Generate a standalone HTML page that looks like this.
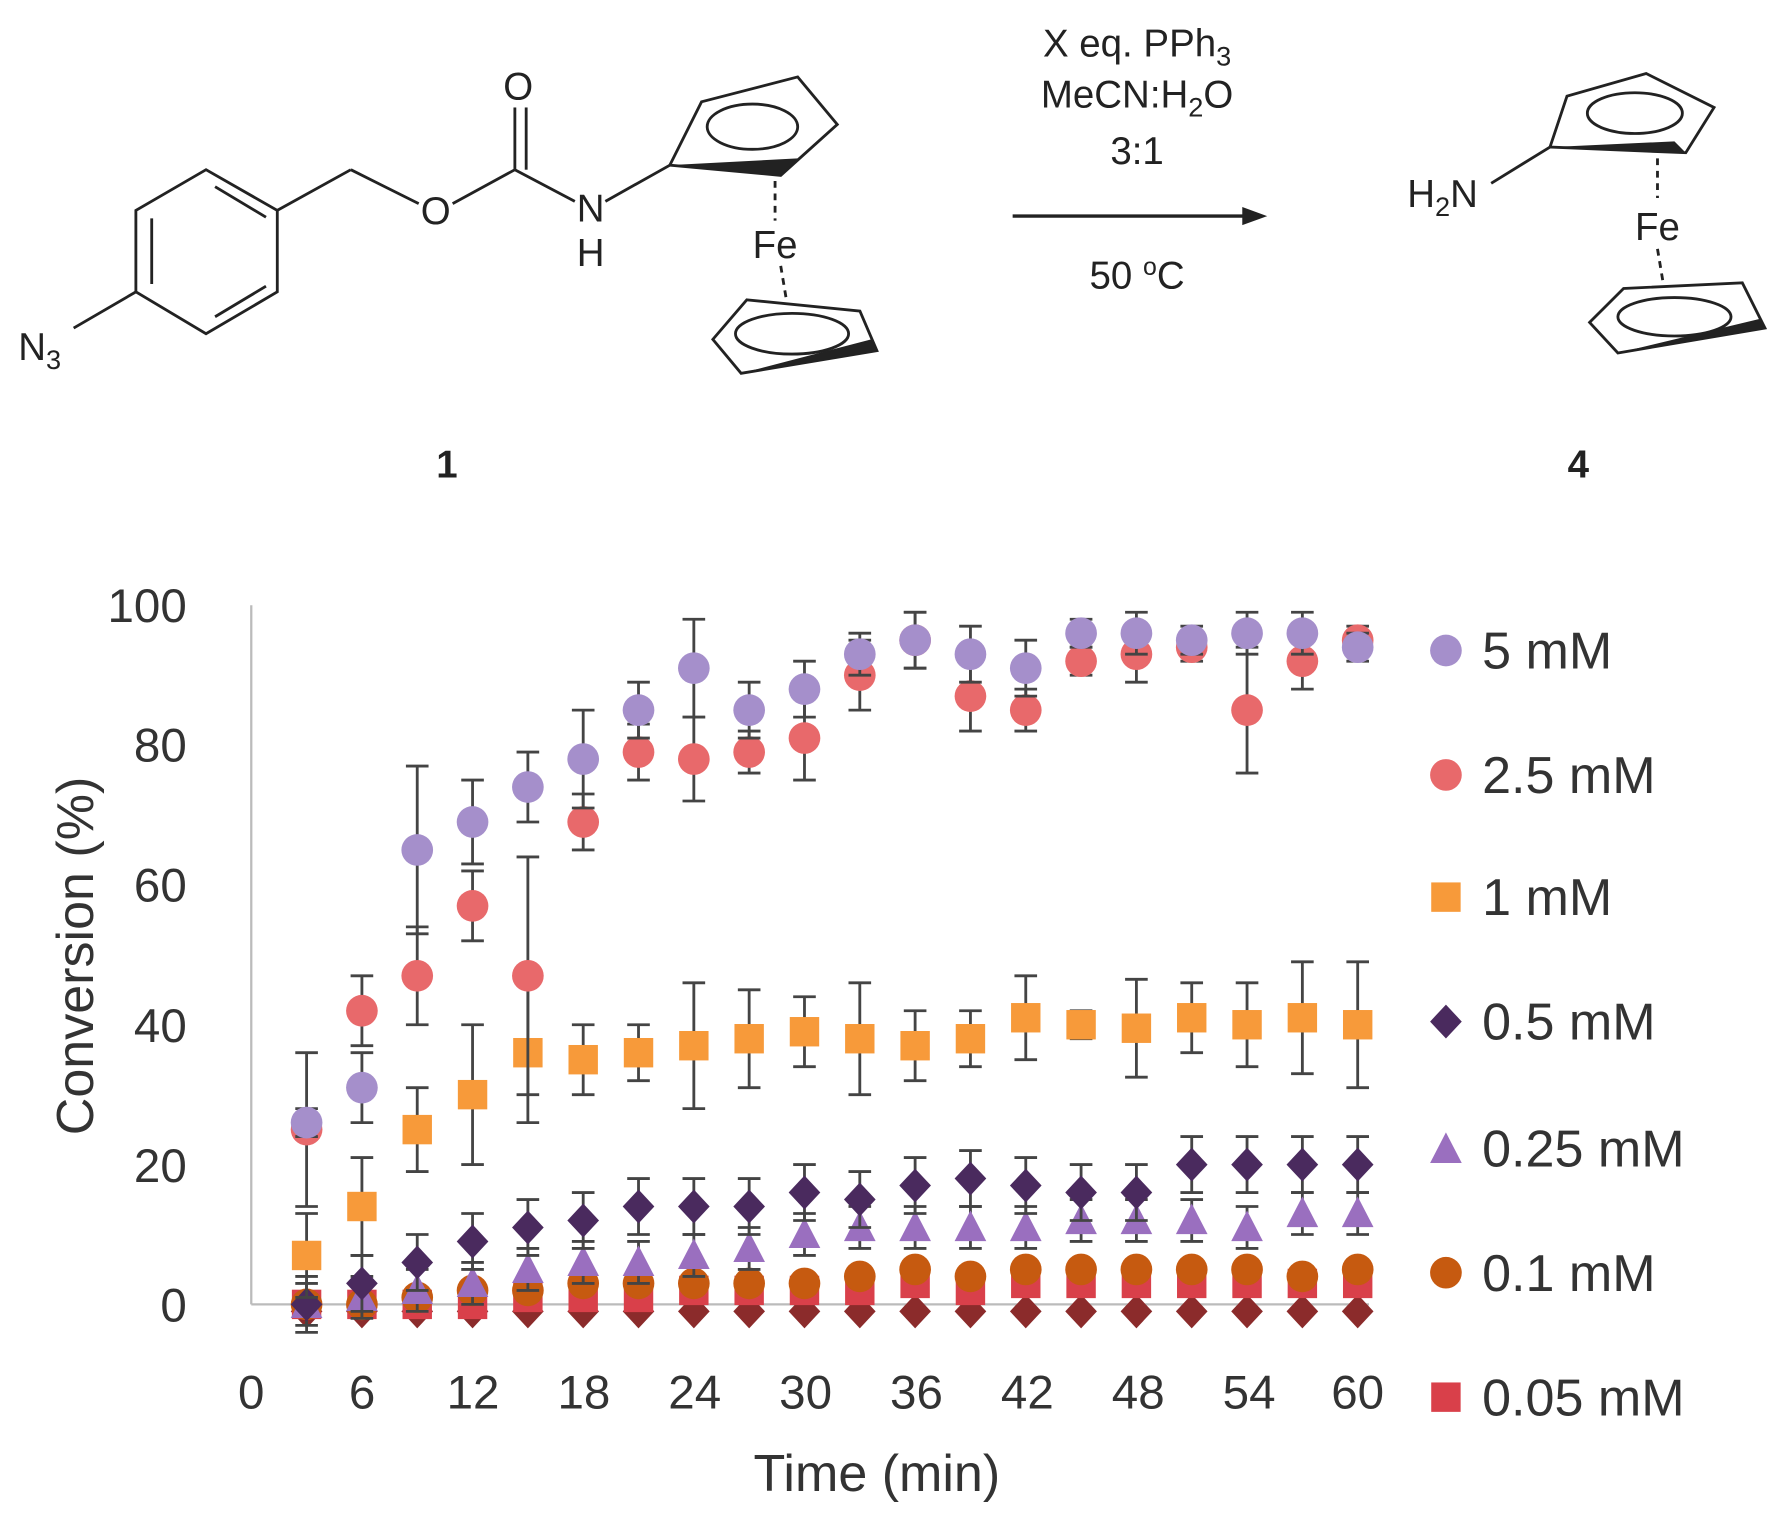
<!DOCTYPE html>
<html><head><meta charset="utf-8"><style>
html,body{margin:0;padding:0;background:#fff;}
svg{display:block;}
text{font-family:"Liberation Sans",sans-serif;}
</style></head><body>
<svg id="s" width="1773" height="1525" viewBox="0 0 1567 1348" xmlns="http://www.w3.org/2000/svg">
<rect width="1567" height="1348" fill="#fff"/>
<g stroke="#222" stroke-width="2.5" fill="none">
<polygon points="182,150 245,186 245,258 182,295 120,258 120,186"/>
<line x1="134" y1="193" x2="134" y2="251"/><line x1="190" y1="165" x2="235" y2="192"/><line x1="190" y1="280" x2="235" y2="253"/>
<line x1="120" y1="258" x2="65" y2="290"/>
<line x1="245" y1="186" x2="310" y2="150"/><line x1="310" y1="150" x2="370" y2="180"/>
<line x1="400" y1="180" x2="455" y2="150"/><line x1="455" y1="150" x2="455" y2="95"/><line x1="465" y1="150" x2="465" y2="95"/>
<line x1="455" y1="150" x2="508" y2="178"/><line x1="535" y1="178" x2="592" y2="146"/>
<polygon points="592,146 620,90 705,68 740,110 690,155"/>
<ellipse cx="665" cy="112" rx="40" ry="20"/>
<line x1="685" y1="160" x2="685" y2="195" stroke-dasharray="6,5"/>
<line x1="690" y1="235" x2="695" y2="265" stroke-dasharray="6,5"/>
<polygon points="630,300 660,265 760,275 775,310 655,330"/>
<ellipse cx="700" cy="295" rx="50" ry="18"/>
<line x1="1318" y1="162" x2="1370" y2="130"/>
<polygon points="1370,130 1385,85 1455,65 1515,95 1490,135"/>
<ellipse cx="1445" cy="100" rx="42" ry="18"/>
<line x1="1465" y1="140" x2="1465" y2="175" stroke-dasharray="6,5"/>
<line x1="1465" y1="220" x2="1470" y2="250" stroke-dasharray="6,5"/>
<polygon points="1405,285 1435,255 1540,250 1560,290 1430,312"/>
<ellipse cx="1480" cy="280" rx="50" ry="17"/>
</g>
<polygon points="592,146 690,155 705,140" fill="#222"/>
<polygon points="655,330 775,310 770,300" fill="#222"/>
<polygon points="1370,130 1490,135 1480,125" fill="#222"/>
<polygon points="1430,312 1560,290 1555,282" fill="#222"/>
<g font-size="34" fill="#222" text-anchor="middle">
<text x="35" y="318">N<tspan font-size="24" dy="8">3</tspan></text>
<text x="385" y="198">O</text><text x="458" y="88">O</text>
<text x="522" y="196">N</text><text x="522" y="235">H</text>
<text x="685" y="228">Fe</text>
<text x="1275" y="183">H<tspan font-size="24" dy="8">2</tspan><tspan dy="-8">N</tspan></text>
<text x="1465" y="212">Fe</text>
<text x="1005" y="50">X eq. PPh<tspan font-size="24" dy="8">3</tspan></text>
<text x="1005" y="95">MeCN:H<tspan font-size="24" dy="8">2</tspan><tspan dy="-8">O</tspan></text>
<text x="1005" y="145">3:1</text>
<text x="1005" y="255">50 <tspan font-size="22" dy="-12">o</tspan><tspan dy="12">C</tspan></text>
<text x="395" y="422" font-weight="bold">1</text><text x="1395" y="422" font-weight="bold">4</text>
</g>
<line x1="895" y1="191" x2="1100" y2="191" stroke="#222" stroke-width="3"/>
<polygon points="1120,191 1098,183 1098,199" fill="#222"/>
<line x1="222" y1="535" x2="222" y2="1153" stroke="#bbb" stroke-width="2"/>
<line x1="222" y1="1153" x2="1210" y2="1153" stroke="#bbb" stroke-width="2"/>
<g font-size="42" fill="#333" text-anchor="end">
<text x="165" y="1168">0</text><text x="165" y="1045">20</text><text x="165" y="921">40</text>
<text x="165" y="797">60</text><text x="165" y="673">80</text><text x="165" y="550">100</text>
</g>
<g font-size="42" fill="#333" text-anchor="middle">
<text x="222" y="1245">0</text><text x="320" y="1245">6</text><text x="418" y="1245">12</text><text x="516" y="1245">18</text>
<text x="614" y="1245">24</text><text x="712" y="1245">30</text><text x="810" y="1245">36</text><text x="908" y="1245">42</text>
<text x="1006" y="1245">48</text><text x="1104" y="1245">54</text><text x="1200" y="1245">60</text>
<text x="775" y="1318" font-size="46">Time (min)</text>
</g>
<text transform="translate(82,845) rotate(-90)" font-size="46" fill="#333" text-anchor="middle">Conversion (%)</text>
<g id="data"></g>
<g font-size="46" fill="#333">
<circle cx="1278" cy="575" r="14" fill="#a58fcb"/><text x="1310" y="591">5 mM</text>
<circle cx="1278" cy="685" r="14" fill="#e8696b"/><text x="1310" y="701">2.5 mM</text>
<rect x="1265" y="780" width="26" height="26" fill="#f79a3a"/><text x="1310" y="809">1 mM</text>
<polygon points="1278,888 1292,903 1278,918 1264,903" fill="#4a2a5e"/><text x="1310" y="919">0.5 mM</text>
<polygon points="1278,1001 1292,1028 1264,1028" fill="#9a6fbf"/><text x="1310" y="1031">0.25 mM</text>
<circle cx="1278" cy="1125" r="14" fill="#c65a10"/><text x="1310" y="1141">0.1 mM</text>
<rect x="1265" y="1222" width="26" height="26" fill="#d9404a"/><text x="1310" y="1251">0.05 mM</text>
</g>
</svg>
<script>
var g=document.getElementById('data'),NS='http://www.w3.org/2000/svg';
function X(t){return 222+t*16.3;}function Y(v){return 1153-v*6.18;}
function el(n,a){var e=document.createElementNS(NS,n);for(var k in a)e.setAttribute(k,a[k]);g.appendChild(e);}
var S=[
['d','#8b2b2b',[-1,-1,-1,-1,-1,-1,-1,-1,-1,-1,-1,-1,-1,-1,-1,-1,-1,-1,-1,-1],0],
['s','#d9404a',[0,0,0,0,1,1,1,2,2,2,2,3,2,3,3,3,3,3,3,3],1],
['c','#c65a10',[0,0,1,2,2,3,3,3,3,3,4,5,4,5,5,5,5,5,4,5],1],
['t','#9a6fbf',[0,1,2,3,5,6,6,7,8,10,11,11,11,11,12,12,12,11,13,13],3],
['d','#4a2a5e',[0,3,6,9,11,12,14,14,14,16,15,17,18,17,16,16,20,20,20,20],4],
['s','#f79a3a',[7,14,25,30,36,35,36,37,38,39,38,37,38,41,40,39.5,41,40,41,40],[6,7,6,10,10,5,4,9,7,5,8,5,4,6,2,7,5,6,8,9]],
['c','#e8696b',[25,42,47,57,47,69,79,78,79,81,90,95,87,85,92,93,94,85,92,95],[11,5,7,5,17,4,4,6,3,6,5,4,5,3,2,4,2,9,4,2]],
['c','#a58fcb',[26,31,65,69,74,78,85,91,85,88,93,95,93,91,96,96,95,96,96,94],[2,5,12,6,5,7,4,7,4,4,3,4,4,4,2,3,2,3,3,2]]
];
S.forEach(function(s){s[2].forEach(function(v,i){var x=X(3+3*i),y=Y(v),e=(typeof s[3]=='number')?s[3]:s[3][i];
if(e>0){var a=Y(v+e),b=Y(v-e);el('line',{x1:x,y1:a,x2:x,y2:b,stroke:'#444','stroke-width':2.5});
el('line',{x1:x-10,y1:a,x2:x+10,y2:a,stroke:'#444','stroke-width':2.5});el('line',{x1:x-10,y1:b,x2:x+10,y2:b,stroke:'#444','stroke-width':2.5});}
if(s[0]=='c')el('circle',{cx:x,cy:y,r:14,fill:s[1]});
else if(s[0]=='s')el('rect',{x:x-13,y:y-13,width:26,height:26,fill:s[1]});
else if(s[0]=='d')el('polygon',{points:(x)+','+(y-15)+' '+(x+14)+','+y+' '+x+','+(y+15)+' '+(x-14)+','+y,fill:s[1]});
else el('polygon',{points:x+','+(y-15)+' '+(x+14)+','+(y+12)+' '+(x-14)+','+(y+12),fill:s[1]});
});});
</script>
</body></html>
